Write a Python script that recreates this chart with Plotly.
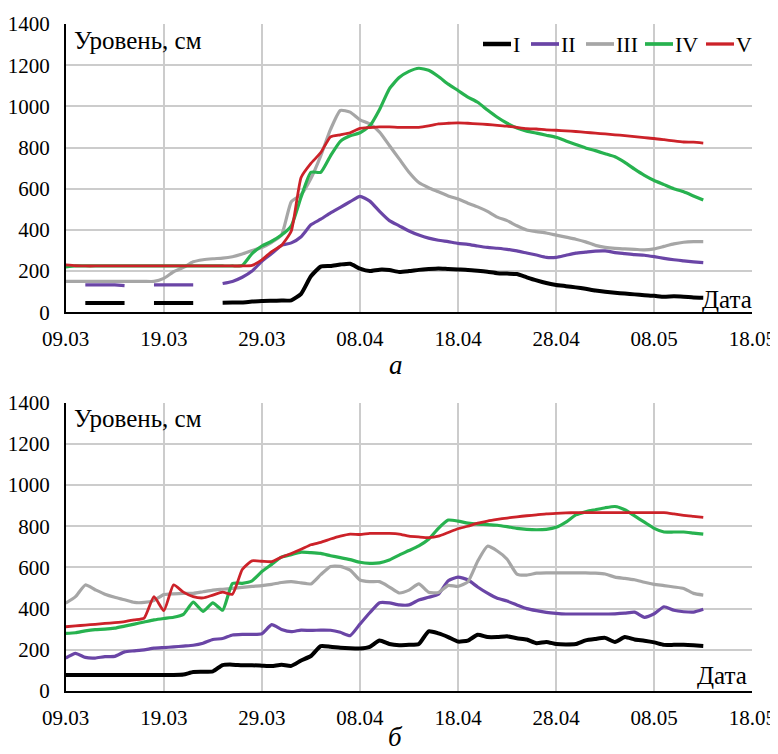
import datetime as dt
import plotly.graph_objects as go

# ---- data ---------------------------------------------------------------
start = dt.date(2021, 3, 9)
dates = [(start + dt.timedelta(days=i)).isoformat() for i in range(66)]
N = None

series_names = ["I", "II", "III", "IV", "V"]

# panel a
a_I = [N, N, 45, 45, 45, 45, 45, N, N, 45,
       45, 45, 45, 45, N, N, 46, 47, 48, 52,
       55, 56, 57, 58, 90, 175, 222, 225, 232, 236,
       212, 200, 207, 205, 196, 200, 206, 210, 213, 210,
       208, 206, 202, 197, 190, 188, 186, 170, 155, 142,
       133, 127, 121, 114, 106, 100, 95, 91, 87, 83,
       80, 75, 78, 76, 72, 71]
a_II = [N, N, 133, 133, 133, 133, 130, N, N, 133,
        133, 133, 133, 133, N, N, 140, 150, 170, 200,
        248, 285, 325, 337, 367, 425, 452, 483, 510, 537,
        563, 540, 490, 445, 420, 395, 375, 360, 350, 343,
        335, 330, 322, 315, 311, 306, 298, 288, 278, 267,
        267, 277, 287, 292, 297, 298, 290, 285, 280, 277,
        270, 262, 255, 250, 245, 241]
a_III = [150, 150, 150, 150, 150, 150, 150, 150, 150, 150,
         165, 197, 218, 245, 255, 260, 263, 270, 283, 300,
         315, 340, 375, 537, 572, 650, 760, 888, 980, 972,
         935, 915, 875, 810, 745, 680, 630, 605, 585, 565,
         550, 530, 512, 490, 462, 445, 420, 400, 392, 385,
         375, 365, 355, 342, 325, 315, 310, 308, 306, 303,
         308, 320, 332, 340, 343, 343]
a_IV = [220, 225, 225, 225, 225, 225, 225, 225, 225, 225,
        225, 225, 225, 225, 225, 225, 225, 225, 227, 285,
        322, 345, 375, 420, 560, 680, 680, 760, 830, 857,
        872, 905, 985, 1085, 1140, 1170, 1185, 1175, 1145, 1108,
        1077, 1045, 1020, 982, 947, 918, 895, 880, 870, 860,
        850, 832, 815, 798, 785, 770, 755, 728, 695, 665,
        640, 620, 600, 585, 565, 545]
a_V = [230, 226, 225, 225, 225, 225, 225, 225, 225, 225,
       225, 225, 225, 225, 225, 225, 225, 225, 225, 228,
       255, 295, 325, 395, 655, 723, 775, 852, 862, 872,
       893, 897, 900, 900, 898, 898, 898, 905, 915, 918,
       920, 918, 915, 912, 908, 904, 898, 892, 890, 886,
       884, 881, 878, 874, 870, 866, 862, 858, 853, 848,
       844, 838, 832, 827, 826, 822]

# panel b
b_I = [78, 78, 78, 78, 78, 78, 78, 78, 78, 78,
       78, 78, 80, 92, 93, 95, 126, 128, 125, 125,
       123, 121, 127, 122, 148, 170, 218, 215, 210, 207,
       206, 214, 245, 228, 222, 224, 228, 290, 280, 262,
       240, 245, 273, 262, 262, 266, 256, 250, 232, 238,
       228, 226, 228, 246, 253, 258, 238, 262, 250, 244,
       236, 224, 224, 224, 222, 219]
b_II = [160, 183, 163, 160, 167, 168, 190, 195, 200, 208,
        211, 214, 218, 222, 232, 250, 255, 272, 275, 275,
        278, 322, 299, 288, 296, 294, 296, 295, 285, 269,
        325, 380, 429, 428, 418, 418, 442, 455, 470, 535,
        553, 540, 505, 475, 450, 437, 418, 400, 390, 382,
        377, 374, 374, 374, 374, 374, 375, 378, 383, 358,
        375, 409, 392, 385, 383, 397]
b_III = [426, 458, 515, 492, 470, 455, 443, 430, 430, 440,
         468, 472, 474, 474, 482, 490, 494, 498, 503, 508,
         512, 518, 527, 531, 525, 520, 565, 605, 605, 587,
         539, 531, 531, 505, 476, 490, 520, 480, 478, 513,
         508, 530, 630, 703, 680, 640, 568, 563, 572, 574,
         574, 574, 574, 574, 572, 568, 553, 547, 540, 528,
         518, 512, 505, 498, 474, 466]
b_IV = [280, 283, 292, 298, 300, 305, 315, 325, 335, 345,
        352, 358, 372, 432, 387, 428, 392, 522, 523, 535,
        580, 615, 650, 662, 674, 672, 668, 657, 648, 638,
        625, 620, 622, 636, 660, 682, 705, 737, 790, 830,
        825, 815, 810, 808, 805, 798, 790, 785, 783, 785,
        795, 820, 855, 870, 880, 890, 896, 880, 850, 820,
        790, 772, 772, 772, 767, 762]
b_V = [312, 316, 320, 324, 328, 332, 337, 345, 354, 458,
       390, 515, 480, 458, 452, 466, 480, 470, 590, 632,
       630, 628, 650, 668, 688, 710, 722, 738, 752, 762,
       760, 765, 765, 765, 762, 752, 748, 745, 752, 770,
       788, 800, 815, 825, 833, 840, 846, 851, 855, 860,
       863, 865, 866, 866, 866, 866, 866, 866, 866, 866,
       866, 866, 860, 853, 848, 843]

x_tick_vals = ["2021-03-09", "2021-03-19", "2021-03-29", "2021-04-08",
               "2021-04-18", "2021-04-28", "2021-05-08", "2021-05-18"]
x_tick_text = ["09.03", "19.03", "29.03", "08.04", "18.04", "28.04", "08.05", "18.05"]
y_tick_vals = [0, 200, 400, 600, 800, 1000, 1200, 1400]

colors = ["#000000", "#6a45a6", "#a6a6a6", "#27b24f", "#cc2229"]
widths = [4, 3.2, 3.2, 3.2, 2.8]

# ---- figure -------------------------------------------------------------
# the page body has an 8px default margin, so the figure is drawn 8px in
OFF = 8
W, H = 770, 746
FONT = "Liberation Serif, Times New Roman, DejaVu Serif, serif"


def fx(px):
    return (px - OFF) / W


def fy(py):
    return 1 - (py - OFF) / H


fig = go.Figure()

panel_a = [a_I, a_II, a_III, a_IV, a_V]
panel_b = [b_I, b_II, b_III, b_IV, b_V]
for i, name in enumerate(series_names):
    fig.add_trace(go.Scatter(x=dates, y=panel_a[i], mode="lines", name=name,
                             line=dict(color=colors[i], width=widths[i], shape="spline", smoothing=0.5),
                             connectgaps=False, xaxis="x", yaxis="y", showlegend=False))
for i, name in enumerate(series_names):
    fig.add_trace(go.Scatter(x=dates, y=panel_b[i], mode="lines", name=name,
                             line=dict(color=colors[i], width=widths[i], shape="spline", smoothing=0.5),
                             connectgaps=False, xaxis="x2", yaxis="y2", showlegend=False))

xdom = [fx(65.7), fx(752.3)]
ydom_a = [fy(312.3), fy(24)]
ydom_b = [fy(691), fy(402.7)]

grid = "#cccccc"
xcommon = dict(type="date", range=["2021-03-09", "2021-05-18"], tickvals=x_tick_vals,
               ticktext=x_tick_text, showgrid=True, gridcolor=grid, gridwidth=1.5,
               showline=True, linecolor="#000000", linewidth=1.5, ticks="",
               ticklabelstandoff=7, tickfont=dict(family=FONT, size=21, color="#000"),
               automargin=False, zeroline=False, domain=xdom)
ycommon = dict(range=[0, 1400], tickvals=y_tick_vals, showgrid=True, gridcolor=grid,
               gridwidth=1.5, showline=True, linecolor="#000000", linewidth=1.5, ticks="",
               ticklabelstandoff=10, tickfont=dict(family=FONT, size=21, color="#000"),
               automargin=False, zeroline=False)

fig.update_layout(
    width=W, height=H,
    margin=dict(l=0, r=0, t=0, b=0),
    paper_bgcolor="white", plot_bgcolor="white",
    font=dict(family=FONT, color="#000"),
    xaxis=dict(**xcommon, anchor="y"),
    yaxis=dict(**ycommon, domain=ydom_a, anchor="x"),
    xaxis2=dict(**xcommon, anchor="y2"),
    yaxis2=dict(**ycommon, domain=ydom_b, anchor="x2"),
    showlegend=False,
)

# legend (drawn as keys + labels, compact like the original)
leg_line_x = [483, 531, 586, 645, 706]
leg_line_len = 28
leg_y = 44
for i, name in enumerate(series_names):
    x0 = leg_line_x[i]
    fig.add_shape(type="line", xref="paper", yref="paper",
                  x0=fx(x0), x1=fx(x0 + leg_line_len), y0=fy(leg_y), y1=fy(leg_y),
                  line=dict(color=colors[i], width=widths[i] + 0.5))
    fig.add_annotation(xref="paper", yref="paper", showarrow=False, text=name,
                       x=fx(x0 + leg_line_len - 0.5), y=fy(leg_y), xanchor="left", yanchor="middle",
                       font=dict(family=FONT, size=22, color="#000"))

ann_font = dict(family=FONT, size=25, color="#000")
annotations = [
    dict(text="Уровень, см", x=fx(71.5), y=fy(40), xanchor="left", yanchor="middle"),
    dict(text="Уровень, см", x=fx(72), y=fy(418.7), xanchor="left", yanchor="middle"),
    dict(text="Дата", x=fx(753.5), y=fy(299.5), xanchor="right", yanchor="middle"),
    dict(text="Дата", x=fx(749), y=fy(675.7), xanchor="right", yanchor="middle"),
]
for a in annotations:
    fig.add_annotation(xref="paper", yref="paper", showarrow=False, font=ann_font, **a)
for txt, yc in [("а", 365), ("б", 737)]:
    fig.add_annotation(xref="paper", yref="paper", showarrow=False, text="<i>%s</i>" % txt,
                       x=fx(396), y=fy(yc), xanchor="center", yanchor="middle",
                       font=dict(family=FONT, size=27, color="#000"))

fig.write_html("out.html")
